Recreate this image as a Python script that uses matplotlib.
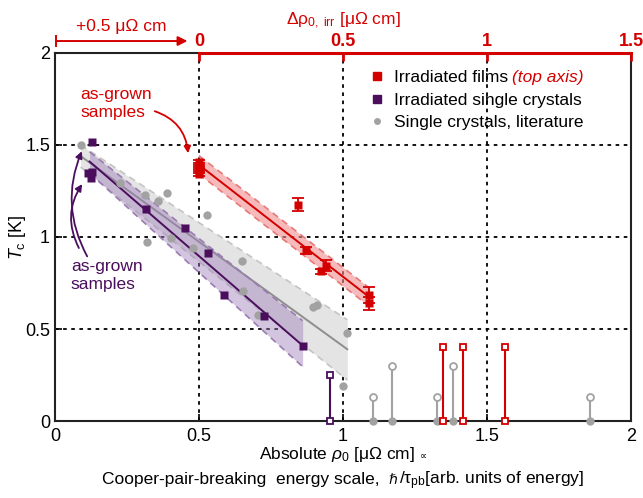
import matplotlib
matplotlib.use("Agg")
import matplotlib.pyplot as plt
from matplotlib.lines import Line2D

plt.rcParams['font.family'] = ['Liberation Sans', 'DejaVu Sans']
plt.rcParams['mathtext.fontset'] = 'custom'
plt.rcParams['mathtext.rm'] = 'Liberation Sans'
plt.rcParams['mathtext.it'] = 'Liberation Sans:italic'

RED = '#d40000'
PURPLE = '#4a0e5c'
GRAY = '#a2a2a2'

# literature single crystals (absolute rho0, Tc)
lit_rho = [0.089, 0.226, 0.313, 0.388, 0.359, 0.320, 0.402, 0.527, 0.480, 0.648, 0.654, 0.706, 0.897, 0.911, 1.015, 1.001]
lit_tc = [1.50, 1.295, 1.228, 1.237, 1.197, 0.971, 0.997, 1.122, 0.940, 0.868, 0.708, 0.575, 0.618, 0.630, 0.477, 0.188]

# irradiated single crystals
xtal_rho = [0.130, 0.116, 0.130, 0.125, 0.316, 0.450, 0.531, 0.588, 0.726, 0.860]
xtal_tc = [1.518, 1.346, 1.355, 1.318, 1.154, 1.050, 0.912, 0.683, 0.569, 0.408]

# irradiated films, plotted against the top axis (delta rho0)
film_drho = [0.0, 0.0, 0.0, 0.0, 0.345, 0.370, 0.441, 0.424, 0.591, 0.591]
film_tc = [1.405, 1.385, 1.365, 1.345, 1.175, 0.927, 0.844, 0.813, 0.685, 0.640]
film_err = [0.015, 0.015, 0.015, 0.015, 0.035, 0.02, 0.03, 0.015, 0.045, 0.035]

# samples without superconducting transition (upper bound on Tc)
lit_nosc_rho = [1.103, 1.171, 1.328, 1.383, 1.858]
lit_nosc_tc = [0.13, 0.30, 0.13, 0.30, 0.13]
xtal_nosc_rho = [0.955]
xtal_nosc_tc = [0.25]
film_nosc_drho = [0.849, 0.916, 1.064]
film_nosc_tc = [0.40, 0.40, 0.40]

# linear fits: (x_start, x_end), (line, upper, lower) values at both ends
lit_fit_x = [0.089, 1.015]
lit_fit = [[1.44, 0.39], [1.50, 0.55], [1.38, 0.223]]
xtal_fit_x = [0.12, 0.86]
xtal_fit = [[1.41, 0.41], [1.463, 0.545], [1.348, 0.295]]
film_fit_x = [0.0, 0.59]
film_fit = [[1.392, 0.675], [1.442, 0.725], [1.342, 0.625]]

fig = plt.figure(figsize=(6.43, 4.98), dpi=100)
ax = fig.add_axes([0.0855, 0.1546, 0.8958, 0.739])
ax2 = ax.twiny()

ax.set_xlim(0, 2)
ax.set_ylim(0, 2)
ax2.set_xlim(-0.5, 1.5)


def band(a, xs, fit, fill, edge, line, z):
    a.fill_between(xs, fit[2], fit[1], color=fill, lw=0, zorder=z)
    for k in (1, 2):
        a.plot(xs, fit[k], color=edge, lw=1.2, ls=(0, (4, 3)), zorder=z + 0.1)
    a.plot(xs, fit[0], color=line, lw=1.4, zorder=z + 0.2)


band(ax, lit_fit_x, lit_fit, '#e4e4e4', '#c4c4c4', '#8e8e8e', 1)
band(ax, xtal_fit_x, xtal_fit, (0.62, 0.5, 0.72, 0.45), '#9a7cb0', PURPLE, 2)
band(ax2, film_fit_x, film_fit, (0.95, 0.55, 0.55, 0.6), '#e87878', RED, 2)

# dotted grid
for v in (0.5, 1, 1.5):
    ax.axvline(v, color='k', lw=1.3, ls=(0, (2, 2.5)), zorder=0.5)
    ax.axhline(v, color='k', lw=1.3, ls=(0, (2, 2.5)), zorder=0.5)

ax.plot(lit_rho, lit_tc, 'o', color=GRAY, ms=6, mec='none', zorder=4)
ax.plot(xtal_rho, xtal_tc, 's', color=PURPLE, ms=6, mec='none', zorder=5)
ax2.errorbar(film_drho, film_tc, yerr=film_err, fmt='s', color=RED, ms=6,
             mec='none', capsize=4, elinewidth=1.3, capthick=1.3, zorder=5)

# stems for non-superconducting samples
for x, t in zip(lit_nosc_rho, lit_nosc_tc):
    ax.plot([x, x], [0, t], color=GRAY, lw=1.5, zorder=4)
ax.plot(lit_nosc_rho, lit_nosc_tc, 'o', ms=5, mfc='white', mec=GRAY, mew=1.3, zorder=5, clip_on=False)
ax.plot(lit_nosc_rho, [0] * len(lit_nosc_rho), 'o', ms=5, color=GRAY, zorder=5, clip_on=False)
for x, t in zip(xtal_nosc_rho, xtal_nosc_tc):
    ax.plot([x, x], [0, t], color=PURPLE, lw=1.5, zorder=4)
ax.plot(xtal_nosc_rho, xtal_nosc_tc, 's', ms=5, mfc='white', mec=PURPLE, mew=1.3, zorder=5)
ax.plot(xtal_nosc_rho, [0] * len(xtal_nosc_rho), 's', ms=5, mfc='white', mec=PURPLE, mew=1.3,
        zorder=5, clip_on=False)
for x, t in zip(film_nosc_drho, film_nosc_tc):
    ax2.plot([x, x], [0, t], color=RED, lw=1.5, zorder=4)
ax2.plot(film_nosc_drho, film_nosc_tc, 's', ms=5, mfc='white', mec=RED, mew=1.3, zorder=5)
ax2.plot(film_nosc_drho, [0] * len(film_nosc_drho), 's', ms=5, mfc='white', mec=RED, mew=1.3,
         zorder=5, clip_on=False)

# axes styling
ticks = [0, 0.5, 1, 1.5, 2]
ax.set_xticks(ticks, ['0', '0.5', '1', '1.5', '2'])
ax.set_yticks(ticks, ['0', '0.5', '1', '1.5', '2'])
ax.tick_params(direction='in', length=5, width=1.2, labelsize=13, top=False, right=False)
ax.tick_params(axis='x', pad=5)
ax2.set_xticks([0, 0.5, 1, 1.5], ['0', '0.5', '1', '1.5'])
ax2.tick_params(axis='x', direction='in', length=6, width=2, colors=RED, labelsize=13, pad=2)
for lab in ax2.get_xticklabels():
    lab.set_fontweight('bold')

for s in ('left', 'bottom', 'right'):
    ax.spines[s].set_linewidth(1.5)
    ax.spines[s].set_color('#222222')
ax.spines['top'].set_bounds(0, 0.5)
ax.spines['top'].set_linewidth(1.5)
ax.spines['top'].set_color('#222222')
for s in ('left', 'bottom', 'right'):
    ax2.spines[s].set_visible(False)
ax2.spines['top'].set_bounds(0, 1.5)
ax2.spines['top'].set_color(RED)
ax2.spines['top'].set_linewidth(2.2)

ax.set_ylabel(r'$T_\mathrm{c}$ [K]', fontsize=13)
ax.yaxis.set_label_coords(-0.046, 0.5)
ax2.set_xlabel(r'Δρ$_{\mathrm{0,\ irr}}$ [μΩ cm]', fontsize=12.5, color=RED, labelpad=6)

# shift indicator above the plot
ax.annotate('', xy=(0.46, 2.065), xytext=(0.005, 2.065), annotation_clip=False,
            arrowprops=dict(arrowstyle='-|>', color=RED, lw=1.4, mutation_scale=14,
                            shrinkA=0, shrinkB=0))
ax.plot([0.005, 0.005], [2.04, 2.09], color=RED, lw=1.4, clip_on=False)
ax.text(0.23, 2.145, '+0.5 μΩ cm', color=RED, fontsize=12.5, ha='center', va='center', clip_on=False)

# as-grown annotations
ax.annotate('as-grown\nsamples', xy=(0.463, 1.44), xytext=(0.088, 1.725), color=RED, fontsize=12.5,
            va='center', ha='left', linespacing=1.3,
            arrowprops=dict(arrowstyle='-|>', color=RED, lw=1.3, connectionstyle='arc3,rad=-0.35',
                            shrinkA=0, shrinkB=2, mutation_scale=10, relpos=(1.0, 0.3)))
ax.annotate('as-grown\nsamples', xy=(0.097, 1.48), xytext=(0.055, 0.79), color=PURPLE, fontsize=12.5,
            va='center', ha='left', linespacing=1.25,
            arrowprops=dict(arrowstyle='-|>', color=PURPLE, lw=1.3, connectionstyle='arc3,rad=-0.25',
                            shrinkA=0, shrinkB=2, mutation_scale=10, relpos=(0.25, 1.0)))
ax.annotate('', xy=(0.1, 1.30), xytext=(0.083, 0.94),
            arrowprops=dict(arrowstyle='-|>', color=PURPLE, lw=1.3, connectionstyle='arc3,rad=-0.3',
                            shrinkA=0, shrinkB=2, mutation_scale=10))

handles = [Line2D([], [], marker='s', ls='none', color=RED, ms=6),
           Line2D([], [], marker='s', ls='none', color=PURPLE, ms=6),
           Line2D([], [], marker='o', ls='none', color=GRAY, ms=5, mec='none')]
leg = ax.legend(handles, ['Irradiated films', 'Irradiated single crystals', 'Single crystals, literature'],
                loc='upper left', bbox_to_anchor=(0.535, 0.972), frameon=False, fontsize=12.5,
                handlelength=0.8, handletextpad=0.6, labelspacing=0.42, borderaxespad=0)
leg.set_zorder(10)

# bottom label built from pieces so symbols missing in Liberation come from DejaVu
base = dict(fontsize=12.5, family=['Liberation Sans', 'DejaVu Sans'])
rows = [
    (0.079, [('Absolute $\\rho_0$ [μΩ cm]', base, 0),
             ('∝', dict(fontsize=7, family='DejaVu Sans'), 6)]),
    (0.028, [('Cooper-pair-breaking  energy scale,', base, 0),
             ('ℏ', dict(fontsize=10, family='DejaVu Sans', style='italic'), 9),
             ('/τ$_\\mathrm{pb}$[arb. units of energy]', base, 1)]),
]
row_objs = []
for y, pieces in rows:
    row_objs.append([(fig.text(0, y, s, ha='left', va='baseline', **kw), gap) for s, kw, gap in pieces])

fig.canvas.draw()
r = fig.canvas.get_renderer()
W = fig.bbox.width
xc = (0.0855 + 0.8958 / 2) * W
for objs in row_objs:
    widths = [o.get_window_extent(r).width + gap for o, gap in objs]
    x = xc - sum(widths) / 2
    for (o, gap), w in zip(objs, widths):
        o.set_x((x + gap) / W)
        x += w

bb = leg.get_texts()[0].get_window_extent(r)
x_fig, y_fig = fig.transFigure.inverted().transform((bb.x1, bb.y0 + bb.height / 2))
fig.text(x_fig + 0.006, y_fig, '(top axis)', color=RED, style='italic', fontsize=12.5, va='center')

fig.savefig('out.png', dpi=100)
